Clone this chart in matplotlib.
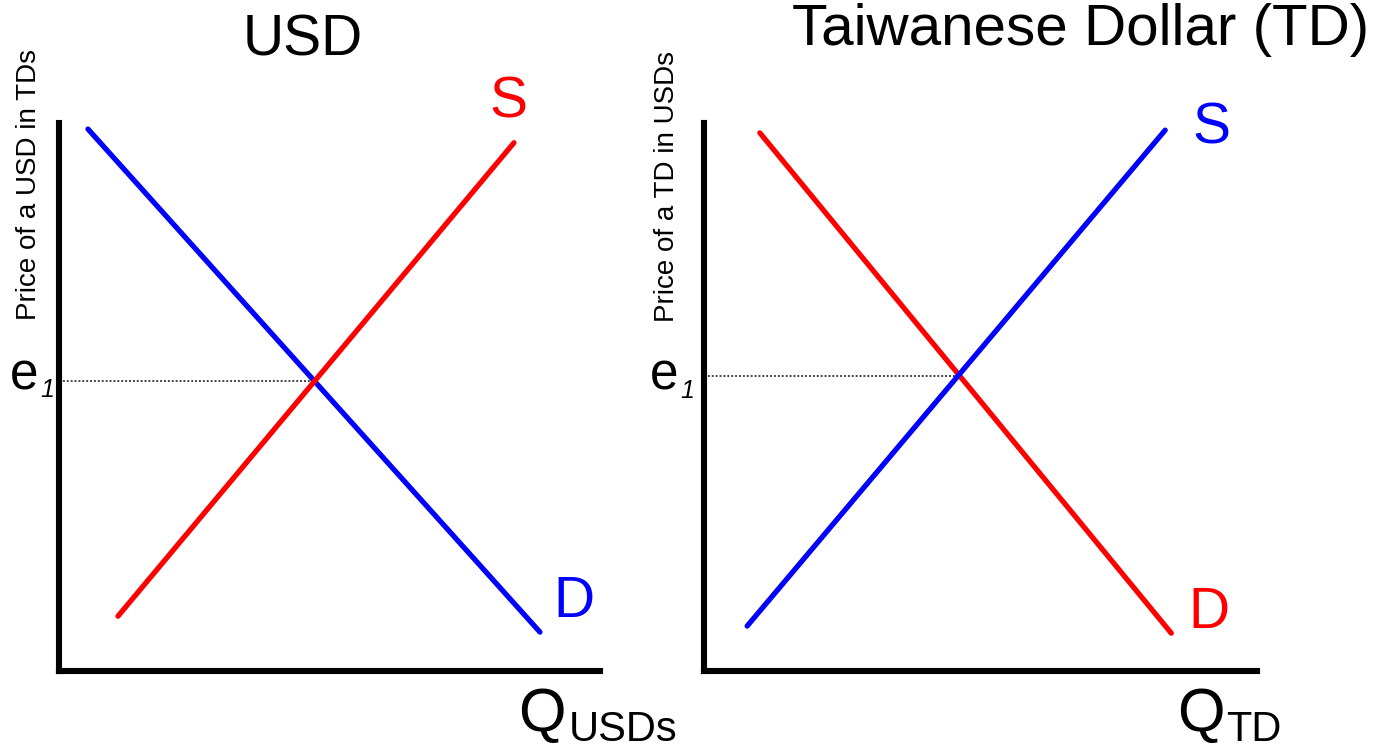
import matplotlib
matplotlib.use("Agg")
import matplotlib.pyplot as plt

plt.rcParams['font.family'] = ['Liberation Sans', 'DejaVu Sans']

# ---- data (quantity 0-10, price 0-10 on each panel) ----
usd_title = "USD"
td_title = "Taiwanese Dollar (TD)"
usd_ylabel = "Price of a USD in TDs"
td_ylabel = "Price of a TD in USDs"

usd_demand_q = [0.535, 8.89]
usd_demand_p = [9.89, 0.71]
usd_supply_q = [1.09, 8.41]
usd_supply_p = [1.00, 9.64]
usd_eq_q = 4.72
usd_eq_p = 5.29

td_demand_q = [1.01, 8.45]
td_demand_p = [9.82, 0.69]
td_supply_q = [0.78, 8.34]
td_supply_p = [0.82, 9.87]
td_eq_q = 4.62
td_eq_p = 5.38

RED = '#ff0000'
BLUE = '#0000ff'
W, H = 1379, 750

fig = plt.figure(figsize=(W / 100, H / 100), dpi=100)


def fx(x):
    return x / W


def fy(y):
    return 1 - y / H


def make_ax(left, right, top, bottom):
    ax = fig.add_axes([fx(left), fy(bottom), (right - left) / W, (bottom - top) / H])
    ax.set_xlim(0, 10)
    ax.set_ylim(0, 10)
    for s in ['top', 'right']:
        ax.spines[s].set_visible(False)
    for s in ['left', 'bottom']:
        ax.spines[s].set_linewidth(4.4)
        ax.spines[s].set_color('black')
        ax.spines[s].set_capstyle('projecting')
    ax.set_xticks([])
    ax.set_yticks([])
    ax.patch.set_alpha(0)
    return ax


ax1 = make_ax(59, 600, 123, 671)
ax2 = make_ax(704, 1257, 123, 671)

lw = 3.8
# Left panel
ax1.plot(usd_demand_q, usd_demand_p, color=BLUE, lw=lw, solid_capstyle='round', clip_on=False)
ax1.plot(usd_supply_q, usd_supply_p, color=RED, lw=lw, solid_capstyle='round', clip_on=False)
ax1.plot([0, usd_eq_q], [usd_eq_p, usd_eq_p], color='#444444', lw=1.4,
         linestyle=(0, (1, 1)), zorder=1)
# Right panel
ax2.plot(td_demand_q, td_demand_p, color=RED, lw=lw, solid_capstyle='round', clip_on=False)
ax2.plot(td_supply_q, td_supply_p, color=BLUE, lw=lw, solid_capstyle='round', clip_on=False)
ax2.plot([0, td_eq_q], [td_eq_p, td_eq_p], color='#444444', lw=1.4,
         linestyle=(0, (1, 1)), zorder=1)

# Titles
fig.text(fx(303), fy(55), usd_title, fontsize=41, ha='center', va='baseline')
fig.text(fx(1081), fy(45), td_title, fontsize=42, ha='center', va='baseline')

# Y labels
fig.text(fx(29), fy(184), usd_ylabel, fontsize=20, rotation=90, ha='center', va='center')
fig.text(fx(667), fy(186), td_ylabel, fontsize=20, rotation=90, ha='center', va='center')

# Curve labels
fig.text(fx(489), fy(118), "S", fontsize=41, color=RED, ha='left', va='baseline')
fig.text(fx(553), fy(617), "D", fontsize=41, color=BLUE, ha='left', va='baseline')
fig.text(fx(1192), fy(143), "S", fontsize=41, color=BLUE, ha='left', va='baseline')
fig.text(fx(1188), fy(628), "D", fontsize=41, color=RED, ha='left', va='baseline')

# e1 labels
fig.text(fx(10), fy(390), "e", fontsize=37, ha='left', va='baseline')
fig.text(fx(40), fy(397), "1", fontsize=18, fontstyle='italic', ha='left', va='baseline')
fig.text(fx(650), fy(390), "e", fontsize=37, ha='left', va='baseline')
fig.text(fx(680), fy(398), "1", fontsize=18, fontstyle='italic', ha='left', va='baseline')

# Q labels
fig.text(fx(518), fy(731), "Q", fontsize=44, ha='left', va='baseline')
fig.text(fx(569), fy(741), "USDs", fontsize=30, ha='left', va='baseline')
fig.text(fx(1177), fy(731), "Q", fontsize=44, ha='left', va='baseline')
fig.text(fx(1226), fy(741), "TD", fontsize=30, ha='left', va='baseline')

fig.savefig("out.png", dpi=100, facecolor='white')
